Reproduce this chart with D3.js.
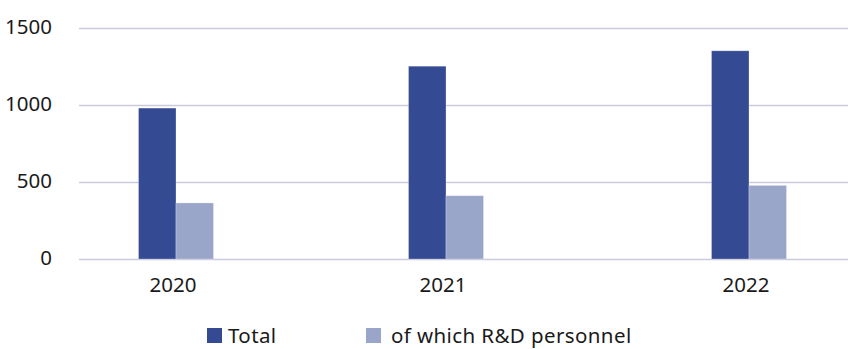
<!DOCTYPE html>
<html>
<head>
<meta charset="utf-8">
<script src="https://cdn.jsdelivr.net/npm/d3@7"></script>
<style>
  html, body { margin: 0; padding: 0; background: #fff; }
  svg { display: block; font-family: "Noto Sans", "Open Sans", sans-serif; }
</style>
</head>
<body>
<svg id="chart" width="848" height="349"></svg>
<script>
// Employees by year
const years = ["2020", "2021", "2022"];
const seriesNames = ["Total", "of which R&D personnel"];
const totalValues = [980, 1252, 1352];
const rdValues = [364, 411, 478];
const yTicks = [0, 500, 1000, 1500];
const seriesColors = ["#344a92", "#9aa6c9"];

const svg = d3.select("#chart");
const width = 848;
const fontSize = 20.5;
const textColor = "#1a1a1a";

const y = d3.scaleLinear().domain([0, 1500]).range([259, 28]);

// Category centres along the baseline
const x = d3.scaleOrdinal().domain(years).range([176, 446, 749]);
const barW = 37.5;
const sub = d3.scaleBand().domain(seriesNames).range([-barW, barW]);

// Gridlines and value labels
const yAxis = d3.axisLeft(y).tickValues(yTicks).tickSize(-(width - 79)).tickPadding(27).tickFormat(d3.format("d"));
const gy = svg.append("g").attr("transform", "translate(79,0)").call(yAxis);
gy.select(".domain").remove();
gy.selectAll(".tick line").attr("stroke", "#c9c9dd").attr("stroke-width", 1.6);
gy.selectAll(".tick text")
  .attr("font-size", fontSize)
  .attr("font-family", "Noto Sans, sans-serif")
  .attr("fill", textColor)
  .attr("dy", "0.26em");

// Bars
const rows = years.map((yr, i) => ({ year: yr, values: [totalValues[i], rdValues[i]] }));
const groups = svg.append("g").selectAll("g").data(rows).join("g")
  .attr("transform", d => `translate(${x(d.year)},0)`);
groups.selectAll("rect")
  .data(d => d.values.map((v, j) => ({ name: seriesNames[j], value: v, color: seriesColors[j] })))
  .join("rect")
  .attr("x", d => sub(d.name))
  .attr("width", sub.bandwidth())
  .attr("y", d => y(d.value))
  .attr("height", d => y(0) - y(d.value))
  .attr("fill", d => d.color)
  .attr("stroke", "#ffffff")
  .attr("stroke-opacity", 0.35)
  .attr("stroke-width", 0.8);

// Year labels
svg.append("g").selectAll("text").data(years).join("text")
  .attr("x", d => x(d) - 3)
  .attr("y", 292)
  .attr("text-anchor", "middle")
  .attr("font-size", fontSize)
  .attr("fill", textColor)
  .text(d => d);

// Legend
const legendX = [207, 366];
const lg = svg.append("g").selectAll("g").data(seriesNames).join("g")
  .attr("transform", (d, i) => `translate(${legendX[i]},328)`);
lg.append("rect").attr("width", 15).attr("height", 15).attr("fill", (d, i) => seriesColors[i]);
lg.append("text")
  .attr("x", (d, i) => i === 0 ? 21 : 25)
  .attr("y", 15)
  .attr("font-size", fontSize)
  .attr("letter-spacing", 0.4)
  .attr("fill", textColor)
  .text(d => d);
</script>
</body>
</html>
